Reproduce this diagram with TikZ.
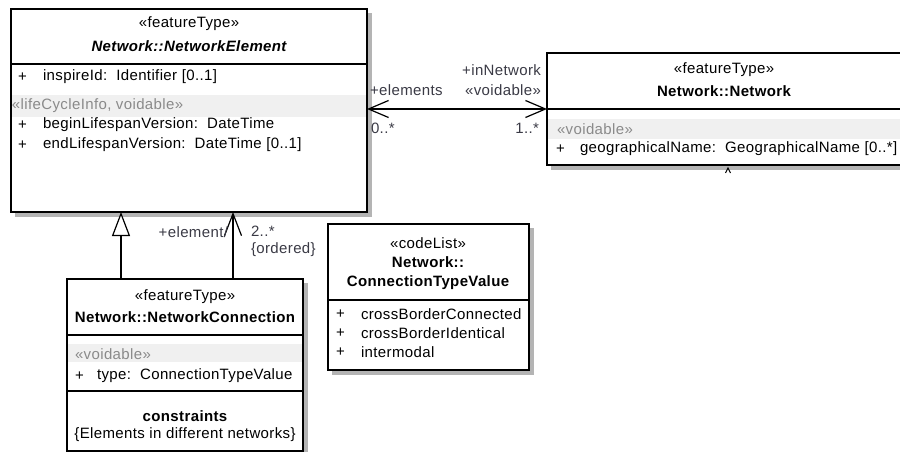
\documentclass[tikz,border=0pt]{standalone}
\usepackage{fontspec}
\setmainfont{Liberation Sans}[LetterSpace=2.5]
\usetikzlibrary{arrows.meta}
\definecolor{bandgray}{HTML}{F0F0F0}
\definecolor{stgray}{HTML}{8A8A8A}
\definecolor{labgray}{HTML}{3A3A45}
\definecolor{shadowgray}{HTML}{B4B4B4}
\tikzset{
  umlbox/.style={draw=black, line width=1.3pt, fill=white, inner sep=0pt, outer sep=0pt, anchor=north west},
  boxshadow/.style={fill=shadowgray},
  compline/.style={line width=1.3pt},
  band/.style={fill=bandgray},
  txt/.style={inner sep=0pt, outer sep=0pt, text=black},
  lt/.style={txt, anchor=west},
  ct/.style={txt, anchor=center},
  rt/.style={txt, anchor=east},
  st/.style={text=stgray},
  lab/.style={text=labgray},
  conn/.style={line width=1.2pt},
  gentip/.style={-{Triangle[open, length=24pt, width=18pt, line width=1.2pt, fill=white]}},
  navtip/.style={-{Straight Barb[length=22pt, width=17pt, line width=1.2pt]}},
  bothtip/.style={{Straight Barb[length=20pt, width=17pt, line width=1.2pt]}-{Straight Barb[length=20pt, width=17pt, line width=1.2pt]}},
}
\begin{document}
\begin{tikzpicture}[x=1pt, y=-1pt, font=\fontsize{15}{18}\selectfont]
\useasboundingbox (0,0) rectangle (900,452);

% ---------------- shadows ----------------
\fill[boxshadow] (15,13) rectangle (372,217);
\fill[boxshadow] (551,57) rectangle (906,170);
\fill[boxshadow] (71,283) rectangle (308,456);
\fill[boxshadow] (332,228) rectangle (534,375);

% ---------------- Network::NetworkElement ----------------
\node[umlbox, minimum width=356pt, minimum height=203pt] (ne) at (11,9) {};
\draw[compline] (11,64) -- (367,64);
\fill[band] (12,95) rectangle (366,117);
\node[ct] (neSt) at (189,24) {«featureType»};
\node[ct] (neName) at (189,46) {\bfseries\itshape Network::NetworkElement};
\node[lt] (neP1) at (18,77) {+};
\node[lt] (neA1) at (43,77) {inspireId:\ \ Identifier [0..1]};
\node[lt, st] (neSt2) at (12,106) {«lifeCycleInfo, voidable»};
\node[lt] (neP2) at (18,125) {+};
\node[lt] (neA2) at (43,125) {beginLifespanVersion:\ \ DateTime};
\node[lt] (neP3) at (18,145) {+};
\node[lt] (neA3) at (43,145) {endLifespanVersion:\ \ DateTime [0..1]};

% ---------------- Network::Network ----------------
\node[umlbox, minimum width=356pt, minimum height=112pt] (nw) at (547,53) {};
\draw[compline] (547,109) -- (903,109);
\fill[band] (548,119) rectangle (902,139);
\node[ct] (nwSt) at (724,70) {«featureType»};
\node[ct] (nwName) at (724,91) {\bfseries Network::Network};
\node[lt, st] (nwSt2) at (557,129) {«voidable»};
\node[lt] (nwP1) at (556,149) {+};
\node[lt] (nwA1) at (580,149) {geographicalName:\ \ GeographicalName [0..*]};
\draw[line width=1pt] (725.5,173) -- (728,168) -- (730.5,173);

% ---------------- Network::NetworkConnection ----------------
\node[umlbox, minimum width=236pt, minimum height=172pt] (nc) at (67,279) {};
\draw[compline] (67,335) -- (303,335);
\fill[band] (68,344) rectangle (302,362);
\draw[compline] (67,391) -- (303,391);
\node[ct] (ncSt) at (185,297) {«featureType»};
\node[ct] (ncName) at (185,317) {\bfseries Network::NetworkConnection};
\node[lt, st] (ncSt2) at (75,354) {«voidable»};
\node[lt] (ncP1) at (75,376) {+};
\node[lt] (ncA1) at (97,376) {type:\ \ ConnectionTypeValue};
\node[ct] (ncC) at (185,416) {\bfseries constraints};
\node[ct] (ncC1) at (185,435) {\{Elements in different networks\}};

% ---------------- Network::ConnectionTypeValue ----------------
\node[umlbox, minimum width=201pt, minimum height=146pt] (ct) at (328,224) {};
\draw[compline] (328,300) -- (529,300);
\node[ct] (ctSt) at (428,243) {«codeList»};
\node[ct] (ctN1) at (428,262) {\bfseries Network::};
\node[ct] (ctN2) at (428,283) {\bfseries ConnectionTypeValue};
\node[lt] (ctP1) at (336,314) {+};
\node[lt] (ctA1) at (361,314) {crossBorderConnected};
\node[lt] (ctP2) at (336,333) {+};
\node[lt] (ctA2) at (361,333) {crossBorderIdentical};
\node[lt] (ctP3) at (336,352) {+};
\node[lt] (ctA3) at (361,352) {intermodal};

% ---------------- connectors ----------------
\coordinate (xg) at (121,0);
\coordinate (xa) at (233,0);
\coordinate (ya) at (0,109);
\draw[conn, bothtip] (ne.east |- ya) -- (nw.west |- ya);
\draw[conn, gentip] (nc.north -| xg) -- (ne.south -| xg);
\draw[conn, navtip] (nc.north -| xa) -- (ne.south -| xa);

% ---------------- association labels ----------------
\node[lt, lab] (lElem) at (370,90) {+elements};
\node[rt, lab] (lInN) at (541,70) {+inNetwork};
\node[rt, lab] (lVoid) at (541,90) {«voidable»};
\node[lt, lab] (lM0) at (371,128) {0..*};
\node[rt, lab] (lM1) at (539,128) {1..*};
\node[rt, lab] (lEl) at (228,232) {+element/};
\node[lt, lab] (lM2) at (251,231) {2..*};
\node[lt, lab] (lOrd) at (251,250) {\{ordered\}};
\end{tikzpicture}
\end{document}
